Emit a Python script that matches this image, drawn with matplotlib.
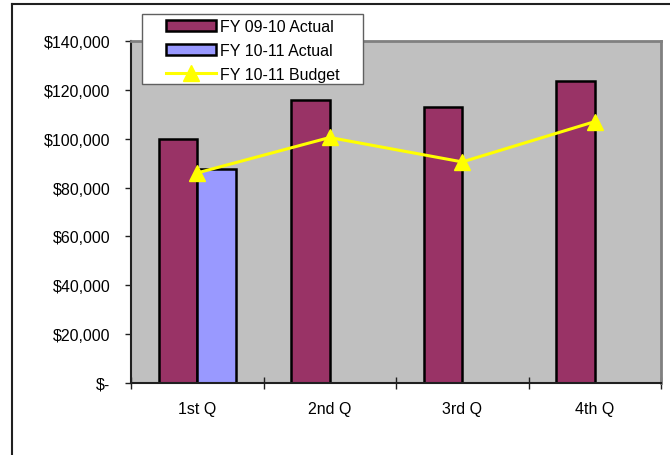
import numpy as np
import matplotlib.pyplot as plt
from matplotlib.patches import Patch, Rectangle
from matplotlib.lines import Line2D

plt.rcParams['font.family'] = ['Liberation Sans', 'DejaVu Sans']

quarters = ['1st Q', '2nd Q', '3rd Q', '4th Q']
fy0910_actual = [100000, 116000, 113000, 123500]
fy1011_actual = [87500]
fy1011_budget = [86000, 100500, 90500, 107000]

y_ticks = [0, 20000, 40000, 60000, 80000, 100000, 120000, 140000]
y_labels = ['$-', '$20,000', '$40,000', '$60,000', '$80,000',
            '$100,000', '$120,000', '$140,000']

maroon = '#993366'
lilac = '#9999FF'
yellow = '#FFFF00'

W, H = 670, 456
fig = plt.figure(figsize=(W / 100, H / 100), dpi=100)

# outer chart frame
fig.add_artist(Line2D([12 / W, 12 / W], [0, 1 - 5 / H],
                      color='#202020', lw=1.5, transform=fig.transFigure))
fig.add_artist(Line2D([12 / W, 1], [1 - 5 / H, 1 - 5 / H],
                      color='#202020', lw=1.5, transform=fig.transFigure))

ax = fig.add_axes([131 / W, 1 - 384 / H, 530 / W, 342 / H])
ax.set_facecolor('#C0C0C0')

x = np.arange(len(quarters))
w = 0.29
ax.bar(x - w / 2, fy0910_actual, w, color=maroon, edgecolor='black',
       linewidth=1.8, zorder=2)
ax.bar(x[:len(fy1011_actual)] + w / 2, fy1011_actual, w, color=lilac,
       edgecolor='black', linewidth=1.8, zorder=2)
ax.plot(x, fy1011_budget, color=yellow, lw=2.2, marker='^', markersize=11,
        zorder=3, clip_on=False)

ax.set_xlim(-0.5, 3.5)
ax.set_ylim(0, 140000)

ax.set_yticks(y_ticks)
ax.set_yticklabels(y_labels, fontsize=11.5)
ax.tick_params(axis='y', direction='out', length=4, width=1,
               color='#202020', pad=11)

# category boundaries carry the tick marks, centres carry the labels
ax.set_xticks(np.arange(-0.5, 4, 1))
ax.set_xticklabels([])
ax.tick_params(axis='x', which='major', direction='inout', length=9,
               width=1, color='#202020')
ax.set_xticks(x, minor=True)
ax.set_xticklabels(quarters, minor=True, fontsize=11.5)
ax.tick_params(axis='x', which='minor', length=0, pad=13)

for side in ['left', 'bottom']:
    ax.spines[side].set_color('#202020')
    ax.spines[side].set_linewidth(1.5)
for side in ['top', 'right']:
    ax.spines[side].set_color('#808080')
    ax.spines[side].set_linewidth(2)

# legend box
fig.add_artist(Rectangle((142 / W, 1 - 85 / H), 221 / W, 70 / H,
                         transform=fig.transFigure, facecolor='white',
                         edgecolor='#606060', linewidth=1, zorder=4))

handles = [
    Patch(facecolor=maroon, edgecolor='black', linewidth=1.8),
    Patch(facecolor=lilac, edgecolor='black', linewidth=1.8),
    Line2D([], [], color=yellow, lw=2.2, marker='^', markersize=11),
]
labels = ['FY 09-10 Actual', 'FY 10-11 Actual', 'FY 10-11 Budget']
leg = fig.legend(handles, labels, loc='upper left',
                 bbox_to_anchor=(166 / W, 1 - 20 / H), fontsize=11.5,
                 frameon=False, borderpad=0, labelspacing=0.55,
                 handlelength=3.1, handleheight=0.65,
                 handletextpad=0.3, borderaxespad=0)
leg.set_zorder(5)

fig.savefig('out.png', dpi=100)
